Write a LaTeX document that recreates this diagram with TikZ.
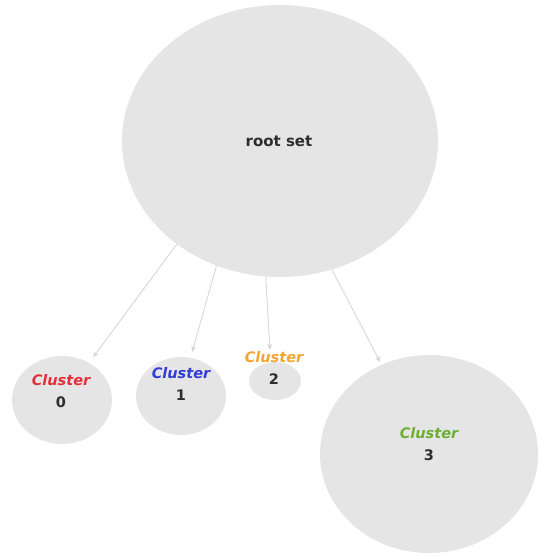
\documentclass[tikz,border=0pt]{standalone}
\usepackage{fontspec}
\setmainfont{DejaVu Sans}
\usetikzlibrary{shapes.geometric,arrows.meta}
\definecolor{blobfill}{RGB}{229,229,229}
\definecolor{edgegray}{RGB}{214,214,214}
\definecolor{txtdark}{RGB}{45,45,45}
\definecolor{cred}{RGB}{226,48,58}
\definecolor{cblue}{RGB}{50,60,215}
\definecolor{corange}{RGB}{245,165,50}
\definecolor{cgreen}{RGB}{110,175,50}
\tikzset{
  blob/.style={ellipse, fill=blobfill, draw=none, inner sep=0pt},
  lbl/.style={align=center, font=\fontsize{14.5}{22}\selectfont\bfseries, text=txtdark, inner sep=0pt},
  link/.style={draw=edgegray, line width=0.9pt, -{Stealth[length=6pt,width=5pt]}},
}
\begin{document}
\begin{tikzpicture}[x=1pt,y=-1pt]
\useasboundingbox (0,0) rectangle (539,556);
\node[blob, minimum width=316pt, minimum height=272pt] (root) at (280,141) {};
\node[lbl, font=\fontsize{15}{18}\selectfont\bfseries] (roottxt) at (279,141) {root set};
\node[blob, minimum width=100pt, minimum height=88pt] (c0) at (62,400) {};
\node[blob, minimum width=90pt, minimum height=78pt] (c1) at (181,396) {};
\node[blob, minimum width=52pt, minimum height=38pt] (c2) at (275,381) {};
\node[blob, minimum width=218pt, minimum height=198pt] (c3) at (429,454) {};
\node[lbl] (t0) at (61,391) {\textcolor{cred}{\itshape Cluster}\\0};
\node[lbl] (t1) at (181,384) {\textcolor{cblue}{\itshape Cluster}\\1};
\node[lbl] (t2) at (274,368) {\textcolor{corange}{\itshape Cluster}\\2};
\node[lbl] (t3) at (429,444) {\textcolor{cgreen}{\itshape Cluster}\\3};
\draw[link, shorten >=7pt] (root.225) -- (c0.54);
\draw[link, shorten >=6pt] (root.243) -- (c1.76);
\draw[link, shorten >=12pt] (root.264) -- (c2.103);
\draw[link, shorten >=3pt] (root.292) -- (c3.118);
\end{tikzpicture}
\end{document}
